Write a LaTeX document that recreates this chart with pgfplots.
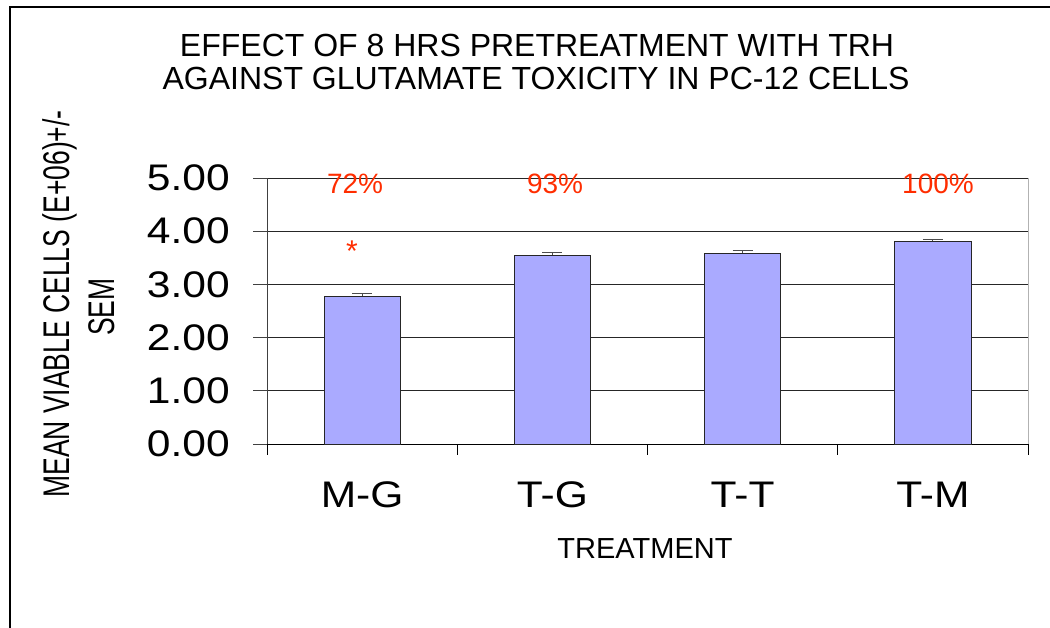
\documentclass[border=0pt]{standalone}
\usepackage{fontspec}
\setmainfont{Liberation Sans}
\newfontfamily\widesans{Liberation Sans}[FakeStretch=1.15]
\usepackage{pgfplots}
\pgfplotsset{compat=1.18}
\definecolor{barblue}{RGB}{170,170,255}
\definecolor{pctred}{RGB}{255,45,0}

\pgfplotstableread{
x   y     err
1   2.78  0.05
2   3.55  0.05
3   3.59  0.05
4   3.81  0.04
}\cellsdata

\begin{document}
\begin{tikzpicture}[x=1bp,y=1bp]
\path[use as bounding box] (0,0) rectangle (1050,628);
\fill[white] (0,0) rectangle (1050,628);
\draw[line width=2bp] (10,0) -- (10,621) -- (1050,621);

% title and axis titles
\node[font=\fontsize{32bp}{36bp}\selectfont, anchor=base] at (537,571) {EFFECT OF 8 HRS PRETREATMENT WITH TRH};
\node[font=\fontsize{32bp}{36bp}\selectfont, anchor=base] at (536,538) {AGAINST GLUTAMATE TOXICITY IN PC-12 CELLS};
\node[rotate=90, font=\fontsize{26.5bp}{30bp}\selectfont] at (60,324) {\scalebox{1}[1.4]{MEAN VIABLE CELLS (E+06)+/-}};
\node[rotate=90, font=\fontsize{26.5bp}{30bp}\selectfont] at (102,321) {\scalebox{1}[1.4]{SEM}};
\node[font=\fontsize{29bp}{34bp}\selectfont, anchor=base] at (645,69) {TREATMENT};

\begin{axis}[
  at={(267bp,184bp)}, anchor=south west,
  scale only axis, width=761bp, height=266bp,
  xmin=0.5, xmax=4.5, ymin=0, ymax=5,
  axis x line*=bottom, axis y line*=left,
  x axis line style={black, line width=0.8bp},
  y axis line style={black!75, line width=1bp},
  ytick={0,1,2,3,4,5},
  ymajorgrids, grid style={black!85, line width=0.8bp},
  xtick={1,2,3,4}, xticklabels={M-G,T-G,T-T,T-M},
  minor xtick={0.5,1.5,2.5,3.5,4.5},
  tick align=outside,
  major tick length=14bp, minor tick length=11bp,
  every major x tick/.style={draw=none},
  every minor tick/.style={black, line width=0.8bp},
  every major tick/.append style={black!75, line width=0.8bp},
  /pgf/number format/assume math mode=true,
  yticklabel={\pgfmathprintnumber[fixed, fixed zerofill, precision=2]{\tick}},
  ticklabel style={font=\widesans\fontsize{37bp}{42bp}\selectfont, inner sep=0pt},
  yticklabel style={anchor=east, xshift=-23bp},
  xticklabel style={anchor=base, yshift=-50bp},
  clip=false,
]
\addplot[ybar, bar width=0.4, fill=barblue, draw=black!85, line width=0.8bp,
  error bars/.cd, y dir=plus, y explicit,
  error bar style={black!70, line width=0.8bp},
  error mark options={rotate=90, mark size=10bp, black!70, line width=0.8bp}]
  table[x=x, y=y, y error=err] {\cellsdata};
\draw[black!30, line width=1bp] (rel axis cs:1,0) -- (rel axis cs:1,1);
\node[pctred, font=\fontsize{28bp}{32bp}\selectfont, anchor=base] at (axis cs:0.963,4.70) {72\%};
\node[pctred, font=\fontsize{28bp}{32bp}\selectfont, anchor=base] at (axis cs:2.014,4.70) {93\%};
\node[pctred, font=\fontsize{28bp}{32bp}\selectfont, anchor=base] at (axis cs:4.027,4.70) {100\%};
\node[pctred, font=\fontsize{30bp}{34bp}\selectfont, inner sep=0pt] at (axis cs:0.947,3.62) {*};
\end{axis}
\end{tikzpicture}
\end{document}
